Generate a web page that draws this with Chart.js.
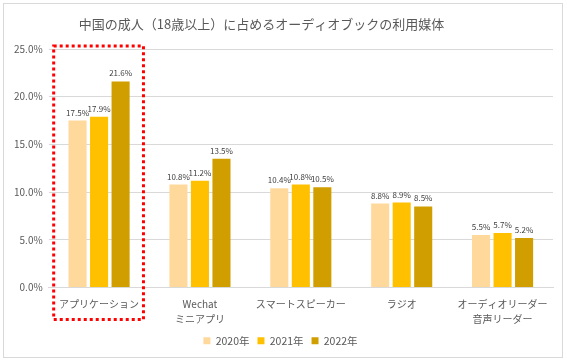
<!DOCTYPE html>
<html>
<head>
<meta charset="utf-8">
<script src="https://cdn.jsdelivr.net/npm/chart.js@4"></script>
<style>
  html, body { margin: 0; padding: 0; background: #fff; }
  #wrap { width: 567px; height: 362px; position: relative; }
</style>
</head>
<body>
<div id="wrap"><canvas id="myChart" width="567" height="362"></canvas></div>
<script>
const categories = [
  "アプリケーション",
  ["Wechat", "ミニアプリ"],
  "スマートスピーカー",
  "ラジオ",
  ["オーディオリーダー", "音声リーダー"]
];
const years = ["2020年", "2021年", "2022年"];
const values2020 = [17.5, 10.8, 10.4, 8.8, 5.5];
const values2021 = [17.9, 11.2, 10.8, 8.9, 5.7];
const values2022 = [21.6, 13.5, 10.5, 8.5, 5.2];
const colors = ["#FFD99C", "#FFC000", "#D19E00"];
const titleText = "中国の成人（18歳以上）に占めるオーディオブックの利用媒体";

const font = "'Noto Sans CJK JP', 'Noto Sans', sans-serif";

// frame + title (title sits a bit left of centre, like the original)
const framePlugin = {
  id: "frame",
  beforeDraw(chart) {
    const ctx = chart.ctx;
    ctx.save();
    ctx.fillStyle = "#fff";
    ctx.fillRect(0, 0, chart.width, chart.height);
    ctx.strokeStyle = "#d9d9d9";
    ctx.lineWidth = 1;
    ctx.strokeRect(3.5, 3.5, chart.width - 8, chart.height - 8);
    ctx.font = "13px " + font;
    ctx.fillStyle = "#595959";
    ctx.textAlign = "center";
    ctx.textBaseline = "middle";
    ctx.fillText(titleText, chart.width / 2 - 22, 24);
    ctx.restore();
  }
};

// value labels above bars
const labelPlugin = {
  id: "valueLabels",
  afterDatasetsDraw(chart) {
    const ctx = chart.ctx;
    ctx.save();
    ctx.font = "8px " + font;
    ctx.fillStyle = "#404040";
    ctx.textAlign = "center";
    ctx.textBaseline = "bottom";
    chart.data.datasets.forEach((ds, i) => {
      chart.getDatasetMeta(i).data.forEach((bar, j) => {
        ctx.fillText(ds.data[j].toFixed(1) + "%", bar.x, bar.y - 4);
      });
    });
    ctx.restore();
  }
};

// red dotted box around the first category
const highlightPlugin = {
  id: "highlight",
  afterDraw(chart) {
    const x = chart.scales.x;
    const area = chart.chartArea;
    const step = (area.right - area.left) / categories.length;
    const cx = x.getPixelForValue(0);
    const left = cx - step * 0.45;
    const right = cx + step * 0.44;
    const top = area.top - 3;
    const bottom = area.bottom + 32;
    const ctx = chart.ctx;
    ctx.save();
    ctx.strokeStyle = "#FF0000";
    ctx.lineWidth = 3;
    ctx.setLineDash([3, 3]);
    ctx.strokeRect(left, top, right - left, bottom - top);
    ctx.restore();
  }
};

const ctx = document.querySelector("#myChart").getContext("2d");
new Chart(ctx, {
  type: "bar",
  data: {
    labels: categories,
    datasets: [
      { label: years[0], data: values2020, backgroundColor: colors[0] },
      { label: years[1], data: values2021, backgroundColor: colors[1] },
      { label: years[2], data: values2022, backgroundColor: colors[2] }
    ]
  },
  options: {
    responsive: false,
    animation: false,
    layout: { padding: { left: 8, right: 14, top: 49, bottom: 6 } },
    datasets: {
      bar: { categoryPercentage: 0.64, barPercentage: 0.84 }
    },
    plugins: {
      title: { display: false },
      legend: {
        position: "bottom",
        labels: {
          boxWidth: 7,
          boxHeight: 7,
          color: "#595959",
          font: { family: font, size: 10.5 },
          padding: 8
        }
      },
      tooltip: { enabled: false }
    },
    scales: {
      x: {
        grid: { display: false },
        border: { color: "#d9d9d9" },
        ticks: {
          color: "#595959",
          font: { family: font, size: 10, lineHeight: 1.5 },
          padding: 1,
          maxRotation: 0,
          autoSkip: false
        }
      },
      y: {
        min: 0,
        max: 25,
        ticks: {
          stepSize: 5,
          color: "#595959",
          font: { family: font, size: 10 },
          padding: 6,
          callback: v => v.toFixed(1) + "%"
        },
        grid: { color: "#d9d9d9", drawTicks: false },
        border: { display: false }
      }
    }
  },
  plugins: [framePlugin, labelPlugin, highlightPlugin]
});
</script>
</body>
</html>
